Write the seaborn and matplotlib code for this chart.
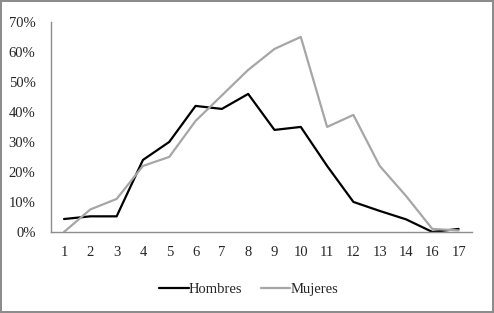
import matplotlib
matplotlib.use("Agg")
import matplotlib.pyplot as plt
import seaborn as sns
import pandas as pd

# categories (15 is missing in the original)
labels = ['1', '2', '3', '4', '5', '6', '7', '8', '9', '10', '11', '12', '13', '14', '16', '17']
hombres = [4.3, 5.2, 5.2, 24, 30, 42, 41, 46, 34, 35, 22, 10, 7, 4.2, 0, 1]
mujeres = [0, 7.5, 11, 22, 25, 37, 45.5, 54, 61, 65, 35, 39, 22, 12, 1, 0.5]

pos = list(range(len(labels)))
df = pd.DataFrame({
    'pos': pos + pos,
    'valor': hombres + mujeres,
    'sexo': ['Hombres'] * len(pos) + ['Mujeres'] * len(pos),
})

sns.set_style('white')
plt.rcParams['font.family'] = ['Liberation Serif', 'DejaVu Serif']

fig = plt.figure(figsize=(4.94, 3.13), dpi=100)
ax = fig.add_axes([0.103, 0.259, 0.852, 0.671])
sns.lineplot(data=df, x='pos', y='valor', hue='sexo',
             palette={'Hombres': 'black', 'Mujeres': '#a6a6a6'},
             linewidth=1.6, ax=ax)

ax.set_xlim(-0.5, len(labels) - 0.5)
ax.set_ylim(0, 70)
ax.set_xticks(pos)
ax.set_xticklabels(labels, fontsize=10.5)
ax.set_yticks(range(0, 71, 10))
ax.set_yticklabels([f'{v}%' for v in range(0, 71, 10)], fontsize=10.5)
ax.tick_params(axis='y', length=0, pad=11)
ax.tick_params(axis='x', length=0, pad=10)
ax.set_xlabel('')
ax.set_ylabel('')
for s in ['top', 'right']:
    ax.spines[s].set_visible(False)
for s in ['left', 'bottom']:
    ax.spines[s].set_color('#8c8c8c')
    ax.spines[s].set_linewidth(1)

ax.legend(loc='upper center', bbox_to_anchor=(0.47, -0.18), ncol=2,
          frameon=False, fontsize=10.5, handlelength=2.0, handletextpad=0,
          columnspacing=1.3)

fig.patch.set_edgecolor('#8c8c8c')
fig.patch.set_linewidth(1.5)
fig.savefig('out.png', dpi=100, edgecolor=fig.get_edgecolor())
